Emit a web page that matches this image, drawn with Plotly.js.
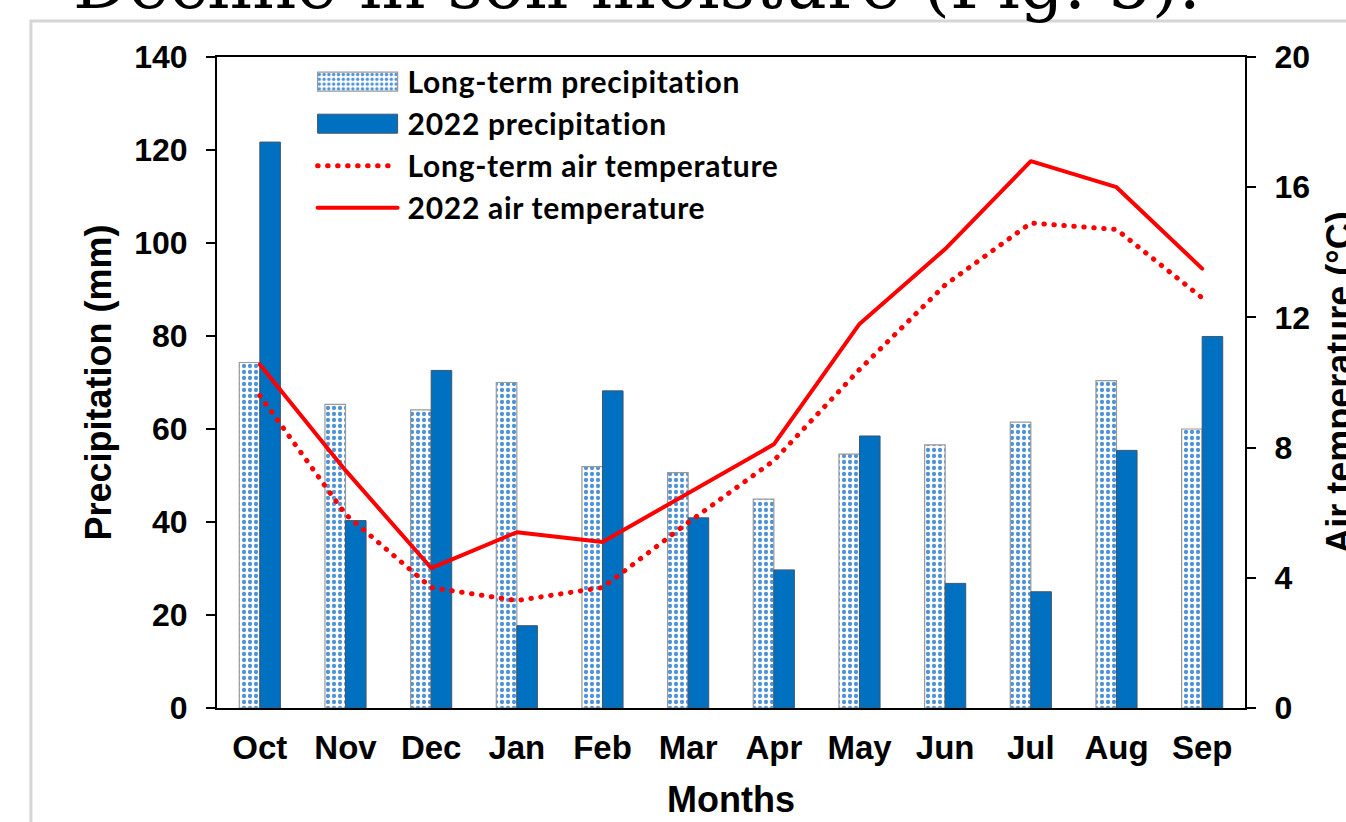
<!DOCTYPE html>
<html>
<head>
<meta charset="utf-8">
<script src="https://cdn.plot.ly/plotly-3.0.1.min.js"></script>
<style>
  html, body { margin: 0; padding: 0; background: #ffffff; overflow: hidden; }
  #chart { width: 1346px; height: 822px; }
  .scatterlayer .js-line, .legend .js-line { stroke-linecap: round !important; stroke-linejoin: round !important; }
</style>
</head>
<body>
<div id="chart"></div>
<script>
// ---- data ----
const months = ['Oct', 'Nov', 'Dec', 'Jan', 'Feb', 'Mar', 'Apr', 'May', 'Jun', 'Jul', 'Aug', 'Sep'];
const longTermPrecip = [74.3, 65.3, 64.1, 70.0, 51.9, 50.6, 44.9, 54.6, 56.6, 61.5, 70.4, 60.0];
const precip2022 = [121.7, 40.3, 72.6, 17.7, 68.2, 40.9, 29.7, 58.5, 26.8, 25.0, 55.4, 79.9];
const longTermTemp = [9.6, 5.95, 3.7, 3.3, 3.7, 5.7, 7.6, 10.4, 13.0, 14.9, 14.7, 12.6];
const temp2022 = [10.55, 7.3, 4.3, 5.4, 5.1, 6.6, 8.1, 11.8, 14.1, 16.8, 16.0, 13.5];
const precipTicks = [0, 20, 40, 60, 80, 100, 120, 140];
const tempTicks = [0, 4, 8, 12, 16, 20];
const seriesNames = ['Long-term precipitation', '2022 precipitation', 'Long-term air temperature', '2022 air temperature'];
const headingText = 'Decline in soil moisture (Fig. 5).';

const boldFont = function (size) {
  return { family: 'Liberation Sans, Arial, sans-serif', size: size, color: '#000000', weight: 700 };
};

const traces = [
  {
    type: 'bar', name: seriesNames[0], x: months, y: longTermPrecip, yaxis: 'y',
    marker: {
      color: '#ffffff',
      pattern: { shape: '.', fgcolor: '#4f93d6', bgcolor: '#ffffff', size: 6, solidity: 0.4, fillmode: 'replace' },
      line: { color: '#9a9a9a', width: 1.2 }
    }
  },
  {
    type: 'bar', name: seriesNames[1], x: months, y: precip2022, yaxis: 'y',
    marker: { color: '#0070c0', line: { color: '#41566b', width: 1 } }
  },
  {
    type: 'scatter', mode: 'lines', name: seriesNames[2], x: months, y: longTermTemp, yaxis: 'y2',
    line: { color: '#ff0000', width: 5, dash: '0.5px,9.5px' }
  },
  {
    type: 'scatter', mode: 'lines', name: seriesNames[3], x: months, y: temp2022, yaxis: 'y2',
    line: { color: '#ff0000', width: 4 }
  }
];

const layout = {
  width: 1346, height: 822,
  margin: { l: 217, r: 101, t: 57, b: 114, pad: 0 },
  paper_bgcolor: '#ffffff', plot_bgcolor: '#ffffff',
  barmode: 'group', bargap: 0.52, bargroupgap: 0,
  showlegend: true,
  legend: {
    x: 0.093, xanchor: 'left', y: 1.002, yanchor: 'top',
    bgcolor: 'rgba(0,0,0,0)', borderwidth: 0,
    itemwidth: 85, traceorder: 'normal',
    font: { family: 'Lato, sans-serif', size: 30, color: '#000000', weight: 700 }
  },
  xaxis: {
    type: 'category', showline: true, linecolor: '#000000', linewidth: 2, mirror: true,
    ticks: '', showgrid: false, zeroline: false,
    tickfont: boldFont(33),
    ticklabelstandoff: 9,
    title: { text: 'Months', font: boldFont(36), standoff: 22 }
  },
  yaxis: {
    range: [0, 140], tickvals: precipTicks, ticks: 'outside', ticklen: 9, tickwidth: 2, tickcolor: '#000000',
    showline: true, linecolor: '#000000', linewidth: 2, showgrid: false, zeroline: false,
    tickfont: boldFont(32), ticklabelstandoff: 12,
    title: { text: 'Precipitation (mm)', font: boldFont(36), standoff: 12 }
  },
  yaxis2: {
    range: [0, 20], tickvals: tempTicks, overlaying: 'y', side: 'right',
    ticks: 'outside', ticklen: 9, tickwidth: 2, tickcolor: '#000000',
    showline: true, linecolor: '#000000', linewidth: 2, showgrid: false, zeroline: false,
    tickfont: boldFont(32), ticklabelstandoff: 12,
    title: { text: 'Air temperature (°C)', font: boldFont(36), standoff: 48 }
  },
  shapes: [
    {
      type: 'rect', xref: 'paper', yref: 'paper', layer: 'below',
      x0: -0.181, x1: 1.2, y0: -0.4, y1: 1.0553,
      line: { color: '#d6d6d6', width: 3 }, fillcolor: 'rgba(0,0,0,0)'
    }
  ],
  annotations: [
    {
      text: headingText, xref: 'paper', yref: 'paper', x: -0.142, xanchor: 'left',
      y: 1.112, yanchor: 'middle', showarrow: false,
      font: { family: 'DejaVu Serif, Liberation Serif, serif', size: 69, color: '#000000' }
    }
  ]
};

function fixLegend(gd) {
  gd.querySelectorAll('.legend .legendpoints path').forEach(function (p) {
    p.setAttribute('d', 'M-42.5,-9.5H37.5V9.5H-42.5Z');
  });
  gd.querySelectorAll('.legend .legendlines path').forEach(function (p) {
    p.setAttribute('d', 'M5,0h80');
  });
  gd.querySelectorAll('.legend .legendtext').forEach(function (t) {
    t.setAttribute('letter-spacing', '0.7px');
  });
  gd.querySelectorAll('.legend .scrollbox, .legend').forEach(function (s) {
    s.removeAttribute('clip-path');
  });
  // the reference crops the right axis title at the page edge: nudge it right
  gd.querySelectorAll('.g-y2title').forEach(function (g) {
    if (g.dataset.shifted) return;
    const orig = g.getAttribute('transform') || '';
    g.setAttribute('transform', ('translate(14,0) ' + orig).trim());
    g.dataset.shifted = '1';
  });
}

Plotly.newPlot('chart', traces, layout, { displayModeBar: false, staticPlot: true }).then(function (gd) {
  fixLegend(gd);
  gd.on('plotly_afterplot', function () { fixLegend(gd); });
});
</script>
</body>
</html>
